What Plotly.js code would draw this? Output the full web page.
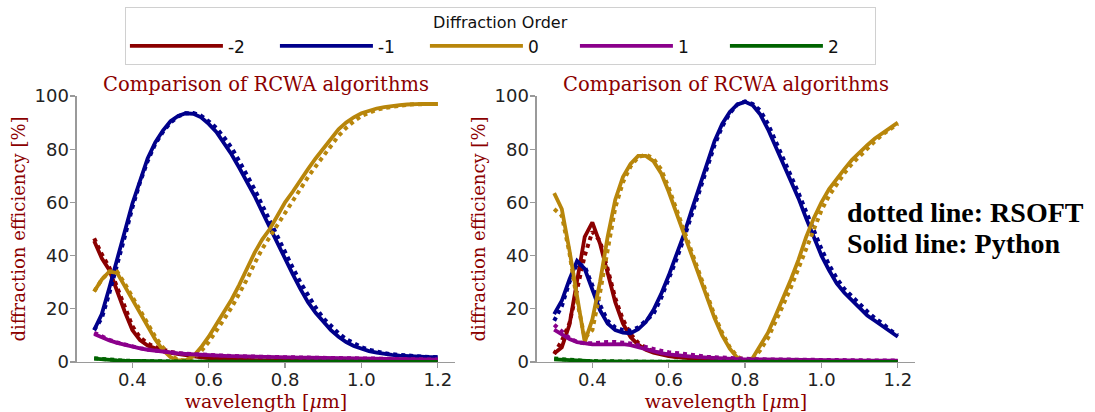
<!DOCTYPE html>
<html>
<head>
<meta charset="utf-8">
<script src="https://cdn.plot.ly/plotly-3.0.1.min.js"></script>
<style>html,body{margin:0;padding:0;background:#fff;}</style>
</head>
<body>
<div id="chart" style="width:1095px;height:412px;"></div>
<script>
// wavelength grid [µm]
const wl = [0.30,0.32,0.34,0.36,0.38,0.40,0.42,0.44,0.46,0.48,
            0.50,0.52,0.54,0.56,0.58,0.60,0.62,0.64,0.66,0.68,
            0.70,0.72,0.74,0.76,0.78,0.80,0.82,0.84,0.86,0.88,
            0.90,0.92,0.94,0.96,0.98,1.00,1.02,1.04,1.06,1.08,
            1.10,1.12,1.14,1.16,1.18,1.20];

const orders = ['-2','-1','0','1','2'];
const orderColors = ['#8B0000','#00008B','#B8860B','#8B008B','#006400'];

// ---------- Left panel, Python (solid) ----------
const L_py_m2 = [45.5,39,34.5,26.5,19,12,8.2,6.2,5,4.1,
  3.4,2.9,2.4,2.0,1.7,1.5,1.3,1.15,1.0,0.9,
  0.8,0.72,0.65,0.6,0.55,0.5,0.46,0.43,0.4,0.38,
  0.36,0.34,0.33,0.32,0.31,0.3,0.29,0.28,0.27,0.26,
  0.25,0.25,0.24,0.24,0.23,0.23];
const L_py_m1 = [12,18,28,38,49,59.5,68.5,76.5,82.5,87,
  90.5,92.5,93.5,93.3,92,89.5,86.5,82.5,78,73,
  68,62.5,56.5,50.5,44.5,38.5,33,27.5,22.5,18.5,
  15,12,9.5,7.5,6,4.9,4.1,3.5,3,2.7,
  2.4,2.2,2.0,1.9,1.8,1.8];
const L_py_0 = [26.5,31,34,33.5,28.5,23.5,18,13,8.5,4.5,
  1.8,0.6,0.7,2.2,5.5,9.5,14,19,23.5,29,
  35,41,46,50,55,60,64,68.5,72.5,76.5,
  80,84,87.5,90,92,93.5,94.5,95.3,95.8,96.3,
  96.6,96.8,97,97,97,97];
const L_py_p1 = [10.5,9.2,8.1,7.2,6.4,5.7,5.1,4.6,4.2,3.8,
  3.5,3.2,3.0,2.8,2.6,2.5,2.4,2.3,2.2,2.1,
  2.0,1.95,1.9,1.85,1.8,1.75,1.7,1.65,1.6,1.55,
  1.5,1.45,1.4,1.35,1.3,1.25,1.2,1.15,1.1,1.05,
  1.0,0.95,0.9,0.9,0.85,0.85];
const L_py_p2 = [1.3,1.0,0.8,0.62,0.48,0.38,0.3,0.24,0.2,0.17,
  0.14,0.12,0.1,0.09,0.08,0.07,0.07,0.06,0.06,0.05,
  0.05,0.05,0.05,0.04,0.04,0.04,0.04,0.04,0.03,0.03,
  0.03,0.03,0.03,0.03,0.03,0.02,0.02,0.02,0.02,0.02,
  0.02,0.02,0.02,0.02,0.02,0.02];

// ---------- Left panel, RSOFT (dotted) ----------
const L_rs_m2 = [46.5,40.5,35.5,28,20.5,13.5,9.2,7,5.6,4.6,
  3.8,3.2,2.7,2.3,2.0,1.7,1.5,1.3,1.15,1.0,
  0.9,0.8,0.72,0.65,0.6,0.55,0.5,0.46,0.43,0.4,
  0.38,0.36,0.34,0.33,0.32,0.31,0.3,0.29,0.28,0.27,
  0.26,0.25,0.25,0.24,0.24,0.23];
const L_rs_m1 = [12,16.5,26,36,47,58,67.5,75.5,82,86.5,
  90,92.3,93.5,93.6,92.6,90.5,88,84.5,80.5,75.5,
  70.5,65,59,53,47,41,35.5,30,25,20.5,
  16.5,13.5,10.8,8.6,6.9,5.6,4.6,3.9,3.3,2.9,
  2.6,2.3,2.1,2.0,1.9,1.8];
const L_rs_0 = [26.5,31,34,34,29.5,24.5,19.5,14,9.5,5.5,
  2.5,0.8,0.5,1.5,4,7.5,11.5,16,20.5,25.5,
  31,37,42.5,47,51.5,56.5,61,65.5,69.5,73.5,
  77.5,81.5,85,88,90.5,92.5,93.8,94.8,95.5,96,
  96.4,96.7,96.9,97,97,97];
const L_rs_p1 = [11,9.5,8.3,7.3,6.5,5.8,5.2,4.7,4.3,3.9,
  3.6,3.3,3.1,2.9,2.7,2.55,2.45,2.35,2.25,2.15,
  2.05,2.0,1.95,1.9,1.85,1.8,1.75,1.7,1.65,1.6,
  1.55,1.5,1.45,1.4,1.35,1.3,1.25,1.2,1.15,1.1,
  1.05,1.0,0.95,0.95,0.9,0.9];
const L_rs_p2 = [1.4,1.1,0.85,0.66,0.5,0.4,0.32,0.26,0.21,0.18,
  0.15,0.13,0.11,0.1,0.09,0.08,0.07,0.07,0.06,0.06,
  0.05,0.05,0.05,0.05,0.04,0.04,0.04,0.04,0.04,0.03,
  0.03,0.03,0.03,0.03,0.03,0.03,0.02,0.02,0.02,0.02,
  0.02,0.02,0.02,0.02,0.02,0.02];

// ---------- Right panel, Python (solid) ----------
const R_py_m2 = [3.2,5.5,14,31,47,52.5,44.5,33.5,22.5,14.5,
  9.4,6.5,4.6,3.5,2.7,2.2,1.8,1.5,1.3,1.1,
  1.0,0.9,0.8,0.72,0.66,0.6,0.55,0.5,0.47,0.44,
  0.41,0.38,0.36,0.34,0.32,0.3,0.29,0.28,0.27,0.26,
  0.25,0.24,0.23,0.22,0.21,0.2];
const R_py_m1 = [18,23,31,38,35,27.5,19.5,14.5,12,11,
  10.8,12.3,15,19.5,25.5,32.5,40,48,57,66,
  75,83,89.5,94,96.8,97.8,96.5,93,87.5,81,
  75,68,61.5,54,47,40,34.5,29.5,26,23,
  20,17.5,15.5,13.5,11.5,9.5];
const R_py_0 = [63.5,57.5,42,24,7.5,16,30,47,61,69.5,
  74.5,77.5,77.5,75.5,71,64,56,48,39.5,31.5,
  24,16.5,10,5,1.5,0.3,1.5,6,11,17.5,
  24,31,38.5,47,54,60,65,69,72.5,76,
  79,81.5,84,86,88,90];
const R_py_p1 = [12.2,10.2,8.6,7.5,6.9,6.6,6.6,6.7,6.8,6.7,
  6.3,5.5,4.6,3.9,3.3,2.9,2.5,2.2,2.0,1.8,
  1.6,1.45,1.3,1.2,1.1,1.0,0.95,0.9,0.85,0.8,
  0.75,0.72,0.7,0.68,0.65,0.62,0.6,0.58,0.56,0.55,
  0.54,0.53,0.52,0.51,0.5,0.5];
const R_py_p2 = [1.0,0.8,0.6,0.45,0.35,0.28,0.22,0.18,0.15,0.12,
  0.1,0.09,0.08,0.07,0.06,0.06,0.05,0.05,0.05,0.04,
  0.04,0.04,0.04,0.03,0.03,0.03,0.03,0.03,0.03,0.03,
  0.02,0.02,0.02,0.02,0.02,0.02,0.02,0.02,0.02,0.02,
  0.02,0.02,0.02,0.02,0.02,0.02];

// ---------- Right panel, RSOFT (dotted) ----------
const R_rs_m2 = [3,8,14.5,27,40,49,45.5,35,24,16,
  10.5,7.2,5.2,4,3.1,2.5,2.0,1.7,1.45,1.25,
  1.1,1.0,0.9,0.8,0.72,0.66,0.6,0.55,0.5,0.47,
  0.44,0.41,0.38,0.36,0.34,0.32,0.3,0.29,0.28,0.27,
  0.26,0.25,0.24,0.23,0.22,0.21];
const R_rs_m1 = [15.5,21,30,37,36,29,21.5,15.5,13,12,
  11.8,13,15.5,18,24,31,38.5,46.5,55,64,
  73,81.5,88.5,93.5,96.8,98,97,94.5,89.5,83,
  77,70.5,63.5,56.5,49.5,42.5,36.5,31.5,27.5,24.5,
  21.5,19,16.5,14.5,12,10];
const R_rs_0 = [57.5,55,41,23,9,12,26,43,58,67.5,
  73.5,77,78,76.5,72.5,65.5,57.5,49.5,41,33,
  25,17.5,11,5.5,2,0.5,1,4.5,9,15,
  21.5,28,35.5,43,50.5,57,62.5,67,71,74.5,
  77.5,80.5,83,85.5,87.5,89.5];
const R_rs_p1 = [14,11.5,9,7.6,7,7,7.3,7.5,7.5,7.3,
  7,6.3,5.5,4.8,4.2,3.7,3.3,2.9,2.6,2.3,
  2.0,1.8,1.6,1.45,1.3,1.2,1.1,1.0,0.95,0.9,
  0.85,0.8,0.77,0.74,0.71,0.68,0.65,0.63,0.61,0.59,
  0.57,0.56,0.55,0.54,0.53,0.52];
const R_rs_p2 = [1.3,1.0,0.75,0.55,0.42,0.33,0.26,0.21,0.17,0.14,
  0.12,0.1,0.09,0.08,0.07,0.07,0.06,0.06,0.05,0.05,
  0.05,0.04,0.04,0.04,0.04,0.03,0.03,0.03,0.03,0.03,
  0.03,0.03,0.02,0.02,0.02,0.02,0.02,0.02,0.02,0.02,
  0.02,0.02,0.02,0.02,0.02,0.02];

// tick labels
const xTickVals = [0.4,0.6,0.8,1.0,1.2];
const xTickText = ['0.4','0.6','0.8','1.0','1.2'];
const yTickVals = [0,20,40,60,80,100];
const yTickText = ['0','20','40','60','80','100'];

const panels = [
  {xa:'x',  ya:'y',  py:[L_py_m2,L_py_m1,L_py_0,L_py_p1,L_py_p2], rs:[L_rs_m2,L_rs_m1,L_rs_0,L_rs_p1,L_rs_p2], legend:true},
  {xa:'x2', ya:'y2', py:[R_py_m2,R_py_m1,R_py_0,R_py_p1,R_py_p2], rs:[R_rs_m2,R_rs_m1,R_rs_0,R_rs_p1,R_rs_p2], legend:false}
];

const traces = [];
panels.forEach(p => {
  for (let k = 0; k < orders.length; k++) {
    traces.push({
      type:'scatter', mode:'lines', x:wl, y:p.py[k], xaxis:p.xa, yaxis:p.ya,
      name:orders[k], showlegend:p.legend, legendgroup:orders[k],
      line:{color:orderColors[k], width:3.8}, hoverinfo:'skip'
    });
    traces.push({
      type:'scatter', mode:'lines', x:wl, y:p.rs[k], xaxis:p.xa, yaxis:p.ya,
      name:orders[k] + ' RSOFT', showlegend:false, legendgroup:orders[k],
      line:{color:orderColors[k], width:4, dash:'dot'}, hoverinfo:'skip'
    });
  }
});

const titleRed = '#8B0000';
const serif = 'DejaVu Serif, serif';
const sans = 'DejaVu Sans, sans-serif';

function xAxis(domain, anchor) {
  return {
    domain:domain, anchor:anchor, range:[0.255,1.245],
    tickvals:xTickVals, ticktext:xTickText,
    showline:true, linecolor:'#9a9a9a', linewidth:1.5,
    ticks:'outside', ticklen:5, tickwidth:1.3, tickcolor:'#9a9a9a',
    ticklabelstandoff:-4,
    showgrid:false, zeroline:false, automargin:false,
    tickfont:{family:sans, size:18, color:'#222'},
    title:{text:'wavelength [<i>μ</i>m]', font:{family:serif, size:19, color:titleRed}, standoff:0}
  };
}
function yAxis(domain, anchor) {
  return {
    domain:domain, anchor:anchor, range:[0,100],
    tickvals:yTickVals, ticktext:yTickText,
    showline:true, linecolor:'#9a9a9a', linewidth:1.5,
    ticks:'outside', ticklen:5, tickwidth:1.3, tickcolor:'#9a9a9a',
    ticklabelstandoff:-2,
    showgrid:false, zeroline:false, automargin:false,
    tickfont:{family:sans, size:18, color:'#222'},
    title:{text:'diffraction efficiency [%]', font:{family:serif, size:18, color:titleRed}, standoff:4}
  };
}

const yDom = [0.1214, 0.767];
const layout = {
  width:1095, height:412,
  margin:{l:0, r:0, t:0, b:0},
  paper_bgcolor:'#ffffff', plot_bgcolor:'#ffffff',
  showlegend:true,
  legend:{
    orientation:'h', x:0.457, xanchor:'center', y:0.984, yanchor:'top',
    bgcolor:'#ffffff', bordercolor:'#d0d0d0', borderwidth:1,
    font:{family:sans, size:17, color:'#111'},
    title:{text:'Diffraction Order', side:'top center', font:{family:sans, size:16, color:'#111'}},
    entrywidth:42, itemwidth:93, tracegroupgap:0
  },
  xaxis: xAxis([0.0703,0.4155], 'y'),
  yaxis: yAxis(yDom, 'x'),
  xaxis2: xAxis([0.4904,0.8356], 'y2'),
  yaxis2: yAxis(yDom, 'x2'),
  annotations:[
    {text:'Comparison of RCWA algorithms', xref:'x domain', yref:'y domain', x:0.5, y:1.043, xanchor:'center', yanchor:'middle', showarrow:false, font:{family:serif, size:19.5, color:titleRed}},
    {text:'Comparison of RCWA algorithms', xref:'x2 domain', yref:'y2 domain', x:0.5, y:1.043, xanchor:'center', yanchor:'middle', showarrow:false, font:{family:serif, size:19.5, color:titleRed}},
    {text:'<b>dotted line: RSOFT</b>', xref:'paper', yref:'paper', x:0.772, y:0.4854, xanchor:'left', yanchor:'middle', align:'left', showarrow:false, font:{family:'Liberation Serif, Times New Roman, serif', size:28, color:'#000'}},
    {text:'<b>Solid line: Python</b>', xref:'paper', yref:'paper', x:0.772, y:0.4078, xanchor:'left', yanchor:'middle', align:'left', showarrow:false, font:{family:'Liberation Serif, Times New Roman, serif', size:28, color:'#000'}}
  ]
};

Plotly.newPlot('chart', traces, layout, {displayModeBar:false, staticPlot:true});
</script>
</body>
</html>
